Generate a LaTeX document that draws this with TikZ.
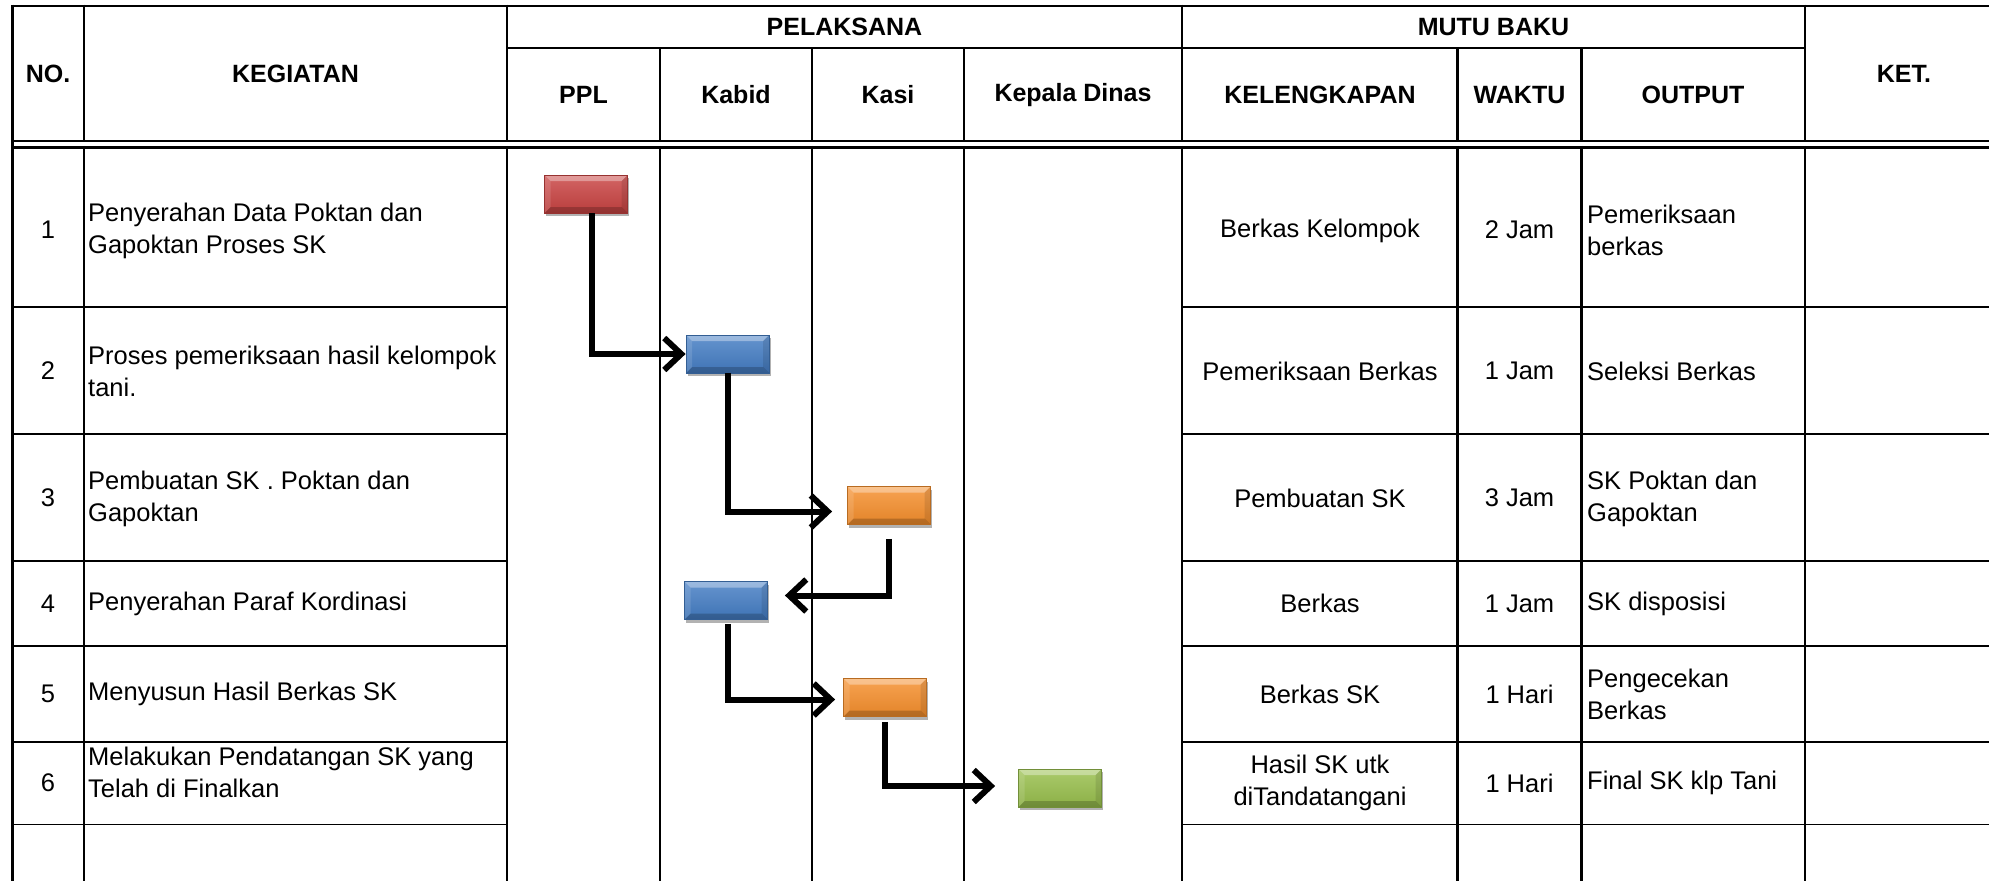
\documentclass[tikz,border=0pt]{standalone}
\usepackage{fontspec}
\setmainfont{Liberation Sans}
\usetikzlibrary{arrows.meta,shadows}
\definecolor{bred}{HTML}{C94342}
\definecolor{bblue}{HTML}{447DC4}
\definecolor{borange}{HTML}{F68F2C}
\definecolor{bgreen}{HTML}{98BF4C}
\begin{document}
\begin{tikzpicture}[x=1pt,y=-1pt,
  thickline/.style={line width=2.7pt},
  thinline/.style={line width=1.3pt},
  hdr/.style={font=\bfseries\fontsize{25}{30}\selectfont, inner sep=0pt},
  txt/.style={font=\fontsize{25.5}{32}\selectfont, inner sep=0pt},
  lefttxt/.style={txt, anchor=west, align=left},
  ctxt/.style={txt, align=center},
  pbox/.style={minimum width=83pt, minimum height=38pt, inner sep=0pt,
    draw=#1!75!black, line width=0.8pt,
    top color=#1!82!white, bottom color=#1!92!black,
    drop shadow={shadow xshift=1.5pt, shadow yshift=-3pt, opacity=0.3, fill=black},
    path picture={
      \fill[white,opacity=0.35] (path picture bounding box.north west) -- (path picture bounding box.north east) -- ++(-6pt,-6pt) -- ++(-71pt,0pt) -- cycle;
      \fill[black,opacity=0.2] (path picture bounding box.south west) -- (path picture bounding box.south east) -- ++(-6pt,6pt) -- ++(-71pt,0pt) -- cycle;
      \fill[white,opacity=0.12] (path picture bounding box.north west) -- ++(6pt,-6pt) -- ++(0pt,-26pt) -- (path picture bounding box.south west) -- cycle;
      \fill[black,opacity=0.1] (path picture bounding box.north east) -- ++(-6pt,-6pt) -- ++(0pt,-26pt) -- (path picture bounding box.south east) -- cycle;
    }},
  conn/.style={line width=6pt, -{Straight Barb[length=17pt,width=32pt]}}
]
\useasboundingbox (0,0) rectangle (1989,881);
% ---------- grid: horizontal lines ----------
\draw[thickline] (12.7,6) -- (1989,6);
\draw[thickline] (507,48) -- (1805,48);
\draw[thickline] (12.7,141) -- (1989,141);
\draw[thickline] (12.7,147.3) -- (1989,147.3);
\foreach \yy in {307,434,561,646,742,824.5}{
  \draw[thinline] (12.7,\yy) -- (507,\yy);
  \draw[thinline] (1182,\yy) -- (1989,\yy);
}
\draw[thickline] (1457.7,307) -- (1581.5,307);
\draw[thickline] (1457.7,434) -- (1581.5,434);
% ---------- grid: vertical lines ----------
\draw[thickline] (12.7,4.65) -- (12.7,881);
\foreach \xx in {84,507,1182,1805}{
  \draw[thickline] (\xx,4.65) -- (\xx,142.35);
  \draw[thickline] (\xx,145.95) -- (\xx,881);
}
\foreach \xx in {660,812,964,1457.7,1581.5}{
  \draw[thickline] (\xx,48) -- (\xx,142.35);
  \draw[thickline] (\xx,145.95) -- (\xx,881);
}
% ---------- headers ----------
\node[hdr] (hNo) at (48,73.5) {NO.};
\node[hdr] (hKeg) at (295.5,73.5) {KEGIATAN};
\node[hdr] (hPel) at (844.5,27) {PELAKSANA};
\node[hdr] (hMutu) at (1493.5,27) {MUTU BAKU};
\node[hdr] (hKet) at (1904,73.5) {KET.};
\node[hdr] (hPPL) at (583.5,95) {PPL};
\node[hdr] (hKabid) at (736,95) {Kabid};
\node[hdr] (hKasi) at (888,95) {Kasi};
\node[hdr] (hKadis) at (1073,95) {Kepala Dinas};
\node[hdr] (hKel) at (1320,95) {KELENGKAPAN};
\node[hdr] (hWaktu) at (1519.5,95) {WAKTU};
\node[hdr] (hOut) at (1693,95) {OUTPUT};
% ---------- row numbers ----------
\node[txt] (n1) at (48,230) {1};
\node[txt] (n2) at (48,371) {2};
\node[txt] (n3) at (48,498) {3};
\node[txt] (n4) at (48,603.5) {4};
\node[txt] (n5) at (48,694) {5};
\node[txt] (n6) at (48,783) {6};
% ---------- kegiatan ----------
\node[lefttxt] (k1) at (88,230.5) {Penyerahan Data Poktan dan\\Gapoktan Proses SK};
\node[lefttxt] (k2) at (88,371.5) {Proses pemeriksaan hasil kelompok\\tani.};
\node[lefttxt] (k3) at (88,498.5) {Pembuatan SK . Poktan dan\\Gapoktan};
\node[lefttxt] (k4) at (88,603.5) {Penyerahan Paraf Kordinasi};
\node[lefttxt] (k5) at (88,694) {Menyusun Hasil Berkas SK};
\node[lefttxt] (k6) at (88,772) {Melakukan Pendatangan SK yang\\Telah di Finalkan};
% ---------- kelengkapan ----------
\node[ctxt] (l1) at (1320,230.5) {Berkas Kelompok};
\node[ctxt] (l2) at (1320,371) {Pemeriksaan Berkas};
\node[ctxt] (l3) at (1320,498) {Pembuatan SK};
\node[ctxt] (l4) at (1320,603.5) {Berkas};
\node[ctxt] (l5) at (1320,694) {Berkas SK};
\node[ctxt] (l6) at (1320,783) {Hasil SK utk\\diTandatangani};
% ---------- waktu ----------
\node[ctxt] (w1) at (1519.5,230) {2 Jam};
\node[ctxt] (w2) at (1519.5,371) {1 Jam};
\node[ctxt] (w3) at (1519.5,498) {3 Jam};
\node[ctxt] (w4) at (1519.5,603.5) {1 Jam};
\node[ctxt] (w5) at (1519.5,694) {1 Hari};
\node[ctxt] (w6) at (1519.5,783) {1 Hari};
% ---------- output ----------
\node[lefttxt] (o1) at (1587,230.5) {Pemeriksaan\\berkas};
\node[lefttxt] (o2) at (1587,371) {Seleksi Berkas};
\node[lefttxt] (o3) at (1587,498.5) {SK Poktan dan\\Gapoktan};
\node[lefttxt] (o4) at (1587,603.5) {SK disposisi};
\node[lefttxt] (o5) at (1587,694) {Pengecekan\\Berkas};
\node[lefttxt] (o6) at (1587,783) {Final SK klp Tani};
% ---------- process boxes ----------
\node[pbox=bred] (red) at (586,194) {};
\node[pbox=bblue] (blueA) at (727.5,354) {};
\node[pbox=borange] (orangeA) at (889,505.5) {};
\node[pbox=bblue] (blueB) at (726,600.5) {};
\node[pbox=borange] (orangeB) at (885,697.5) {};
\node[pbox=bgreen] (green) at (1060,788) {};
% ---------- connectors ----------
\draw[conn] ([xshift=6pt]red.south) |- (blueA.west);
\draw[conn] (blueA.south) |- ([xshift=-15pt,yshift=-6pt]orangeA.west);
\draw[conn] ([yshift=-14pt]orangeA.south) |- ([xshift=17pt,yshift=5pt]blueB.east);
\draw[conn] ([xshift=2pt,yshift=-4pt]blueB.south) |- ([xshift=-8pt,yshift=-2pt]orangeB.west);
\draw[conn] ([yshift=-5pt]orangeB.south) |- ([xshift=-23pt,yshift=2pt]green.west);
\end{tikzpicture}
\end{document}
